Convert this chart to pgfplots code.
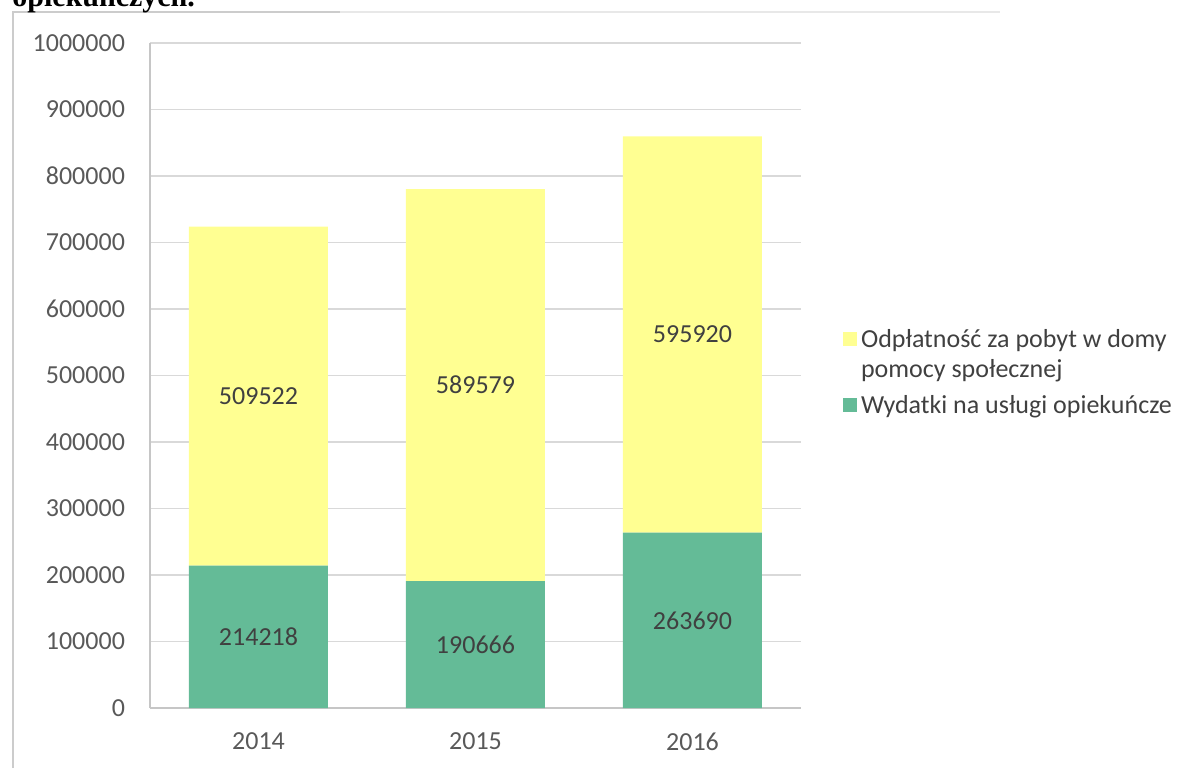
\documentclass[border=0pt]{standalone}
\usepackage{pgfplots}
\pgfplotsset{compat=1.18}
\usepackage{pgfplotstable}
\usepackage{fontspec}
\setmainfont{Carlito}
\newfontfamily\titlefont{Liberation Serif}

\definecolor{odpl}{HTML}{FFFF92}
\definecolor{wyd}{HTML}{64BB97}
\definecolor{txt}{HTML}{404040}
\definecolor{ticktxt}{HTML}{595959}

% wartosci z wykresu
\pgfplotstableread{
x odpl wyd
0 509522 214218
1 589579 190666
2 595920 263690
}\dane

% etykiety w srodku segmentow
\pgfplotstableread{
x y lab
0 107109 214218
1 95333 190666
2 131845 263690
0 468979 509522
1 485456 589579
2 561650 595920
}\etykiety

\pgfplotsset{wspolne/.style={
  at={(75pt,30pt)}, anchor=south west,
  scale only axis, width=325.5pt, height=332.5pt,
  xmin=-0.5, xmax=2.5, ymin=0, ymax=1000000,
}}

\begin{document}
\begin{tikzpicture}[font=\fontsize{13pt}{15.6pt}\selectfont]
\useasboundingbox (0,0) rectangle (600.5pt,384pt);
\draw[gray!40, line width=0.8pt] (6.5pt,0) -- (6.5pt,378pt) -- (170pt,378pt);
\draw[gray!18, line width=0.6pt] (170pt,378pt) -- (500pt,378pt);
\node[anchor=base west, inner sep=0pt, text=black,
  font=\titlefont\bfseries\fontsize{15pt}{18pt}\selectfont] at (6pt,381pt) {opiekuńczych.};

\begin{axis}[wspolne,
  ybar stacked, bar width=69.5pt,
  axis x line*=bottom, axis y line*=left,
  axis line style={draw=gray!45, line width=0.75pt, -},
  ymajorgrids=true,
  major grid style={draw=gray!30, line width=0.75pt},
  major tick length=0pt,
  xtick={0,1,2}, xticklabels={2014,2015,2016},
  ytick={0,100000,200000,300000,400000,500000,600000,700000,800000,900000,1000000},
  scaled y ticks=false,
  yticklabel style={/pgf/number format/fixed, /pgf/number format/1000 sep={},
    /pgf/number format/assume math mode=true, text=ticktxt, anchor=east, xshift=-9pt},
  xticklabel style={text=ticktxt, yshift=-9pt},
]
\addplot[fill=wyd, draw=none] table[x=x, y=wyd]{\dane};
\addplot[fill=odpl, draw=none] table[x=x, y=odpl]{\dane};
\end{axis}

\begin{axis}[wspolne, hide axis, clip=false,
  legend image code/.code={\fill[#1] (0pt,0.8pt) rectangle (7pt,7.8pt);},
  legend style={at={(1.064,0.570)}, anchor=north west, draw=none, fill=none,
    inner sep=0pt, row sep=0pt, text=txt,
    nodes={inner ysep=0pt, text depth=3pt},
    cells={anchor=base west}},
]
\addlegendimage{fill=odpl, draw=none}
\addlegendentry{Odpłatność za pobyt w domy}
\addlegendimage{empty legend}
\addlegendentry{\rule{0pt}{12pt}pomocy społecznej}
\addlegendimage{fill=wyd, draw=none}
\addlegendentry{\rule{0pt}{15pt}Wydatki na usługi opiekuńcze}
\addplot[forget plot, draw=none, mark=none, nodes near coords,
  point meta=explicit symbolic,
  every node near coord/.append style={anchor=center, text=txt}]
  table[x=x, y=y, meta=lab]{\etykiety};
\end{axis}
\end{tikzpicture}
\end{document}
